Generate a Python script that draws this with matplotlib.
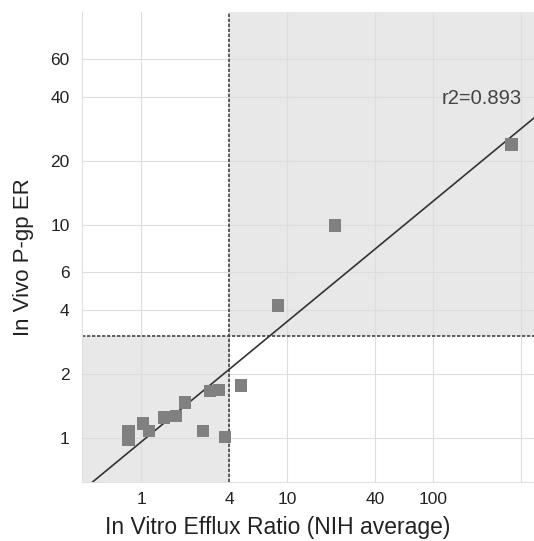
import numpy as np
import matplotlib
matplotlib.use('Agg')
import matplotlib.pyplot as plt

# values (log-log scatter)
x_vals = [0.82, 0.82, 1.03, 1.13, 1.44, 1.74, 2.0, 2.97, 3.42, 2.65, 3.76, 4.82, 8.64, 21.3, 346]
y_vals = [1.08, 0.98, 1.17, 1.08, 1.25, 1.27, 1.47, 1.66, 1.68, 1.08, 1.01, 1.76, 4.18, 9.93, 23.9]

x_cut = 4
y_cut = 3
fit_slope = 0.565      # log10(y) = slope * log10(x) + intercept
fit_intercept = -0.019
r2_label = 'r2=0.893'

x_ticks = [1, 4, 10, 40, 100, 400]
x_ticklabels = ['1', '4', '10', '40', '100', '']
y_ticks = [1, 2, 4, 6, 10, 20, 40, 60]

plt.rcParams['font.family'] = ['Liberation Sans', 'DejaVu Sans']

fig = plt.figure(figsize=(5.34, 5.41), dpi=100)
ax = fig.add_axes([0.1536, 0.109, 0.8464, 0.869])
ax.set_xscale('log')
ax.set_yscale('log')
xmin, xmax = 0.394, 492
ymin, ymax = 0.621, 100
ax.set_xlim(xmin, xmax)
ax.set_ylim(ymin, ymax)

# shaded quadrants
ax.fill_between([xmin, x_cut], ymin, y_cut, color='#e8e8e8', zorder=0, linewidth=0)
ax.fill_between([x_cut, xmax], y_cut, ymax, color='#e8e8e8', zorder=0, linewidth=0)

ax.set_xticks(x_ticks)
ax.set_xticklabels(x_ticklabels)
ax.set_yticks(y_ticks)
ax.set_yticklabels([str(t) for t in y_ticks])
ax.minorticks_off()
ax.tick_params(length=0, labelsize=12.5, colors='#222222')
ax.tick_params(axis='y', pad=9)
ax.tick_params(axis='x', pad=7)
ax.grid(True, color='#dddddd', linewidth=0.8, zorder=1)
for s in ax.spines.values():
    s.set_visible(False)
ax.spines['left'].set_visible(True)
ax.spines['left'].set_color('#e0e0e0')
ax.spines['bottom'].set_visible(True)
ax.spines['bottom'].set_color('#e0e0e0')

# threshold lines
ax.axvline(x_cut, color='#444444', linestyle=(0, (2, 1)), linewidth=1.2, zorder=2)
ax.axhline(y_cut, color='#444444', linestyle=(0, (2, 1)), linewidth=1.2, zorder=2)

# regression line
xx = np.logspace(np.log10(xmin), np.log10(xmax), 100)
ax.plot(xx, 10 ** (fit_slope * np.log10(xx) + fit_intercept), color='#333333', linewidth=1.2, zorder=3)

ax.scatter(x_vals, y_vals, marker='s', s=80, color='#808080', edgecolors='none', zorder=4)

ax.text(0.972, 0.815, r2_label, transform=ax.transAxes, ha='right', va='center',
        fontsize=14.5, color='#444444')

ax.set_xlabel('In Vitro Efflux Ratio (NIH average)', fontsize=16.5, color='#222222')
ax.xaxis.set_label_coords(0.432, -0.072)
ax.set_ylabel('In Vivo P-gp ER', fontsize=16, color='#222222')
ax.yaxis.set_label_coords(-0.106, 0.479)

fig.savefig('out.png', dpi=100)
